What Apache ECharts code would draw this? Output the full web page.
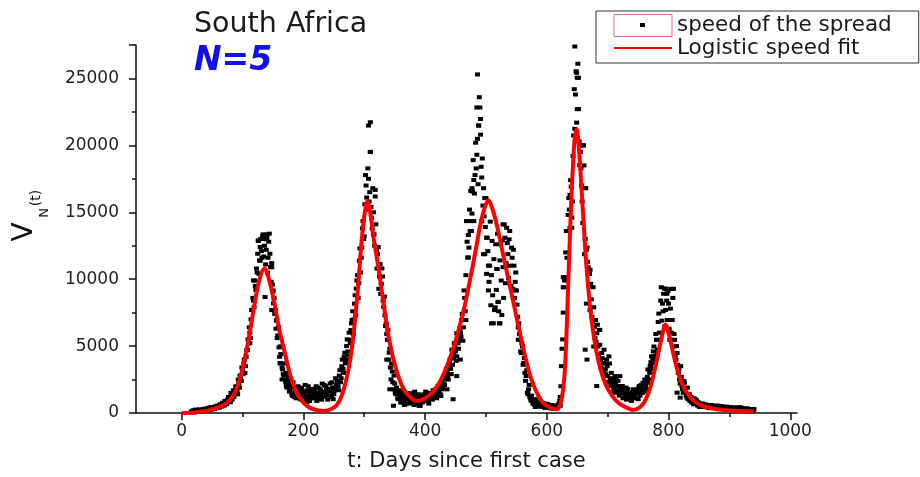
<!DOCTYPE html>
<html>
<head>
<meta charset="utf-8">
<script src="https://cdn.jsdelivr.net/npm/echarts@6/dist/echarts.min.js"></script>
<style>html,body{margin:0;padding:0;background:#fff}#c{width:920px;height:477px}</style>
</head>
<body>
<div id="c"></div>
<script>
// ---- data ----
const titleText = 'South Africa';
const subtitleText = 'N=5';
const xTickLabels = [0, 200, 400, 600, 800, 1000];
const xMinorTicks = [100, 300, 500, 700, 900];
const yTickStep = 5000;

// daily speed of the spread, even days (16, 18, ... 940)
const speedEvenStart = 16;
const speedEvenValues = [
 120,60,200,90,250,150,80,220,130,260,
 180,300,150,350,220,400,250,330,420,300,
 450,380,520,400,600,480,700,550,820,650,
 900,1100,800,1300,1500,1200,1700,1800,1400,2200,
 2800,2400,3200,3700,3000,4200,4700,5200,6000,7000,
 7700,8400,9900,9200,10500,12900,11400,13000,11600,13300,
 12500,11100,13100,11600,13400,10900,11200,9100,8600,7700,
 6900,5800,4900,3700,4970,3250,2800,2500,3000,2100,
 2400,1700,2200,1300,1900,1500,1100,1800,1400,1500,
 1000,1700,1300,800,1600,1200,2000,900,1500,1800,
 1100,1600,1400,900,1900,1200,1700,1000,1500,2100,
 1300,1800,1000,1600,2200,1200,1900,1400,1700,2000,
 2400,1700,3200,2600,3990,3000,4500,3700,5500,4300,
 5470,6200,6950,5900,8170,7300,9900,8600,11380,10500,
 12360,14340,13200,17780,16100,18280,15800,19510,14600,16800,
 13350,16180,12100,11870,9280,11130,9650,10200,7930,7300,
 6700,5470,3990,4800,2510,3100,1770,2200,1400,1700,
 1030,1500,780,1300,1100,600,1400,900,1200,700,
 1280,1000,1500,600,1100,800,1300,540,1000,1200,
 800,1400,1030,900,1300,700,1500,1100,1000,1600,
 1200,1800,1300,1500,2000,1280,1770,2510,2100,3000,
 3000,2500,3740,3300,4730,4100,5220,4600,5960,5200,
 5470,6000,6950,5400,9160,7600,14340,11620,12360,14340,
 13600,16550,17410,17780,18280,20490,21480,22830,18400,19020,
 16800,11870,16060,13100,9160,11010,8050,12860,6700,7690,
 12610,10760,8300,6700,12610,7320,10900,14090,9700,13840,
 11870,12980,11010,12360,9280,11010,9800,9160,7190,6700,
 5470,4480,4970,3740,3000,2760,1520,1770,1200,910,
 1030,800,600,900,700,540,650,500,750,540,
 600,420,700,450,550,350,600,420,500,380,
 460,540,700,1200,3500,5500,9400,10150,13600,9900,
 16060,13840,16920,15810,20740,21230,25540,25050,22710,18520,
 18280,15810,20000,11870,16800,12360,10890,10390,9650,7190,
 9400,6450,6950,5960,4970,6210,3990,4480,3740,4730,
 3250,3990,2760,4230,2510,3000,2020,1770,2760,2510,
 2020,1520,2760,1800,2020,1520,1280,1900,1520,1300,
 1280,1030,1520,1770,1200,1520,1770,1030,2020,1770,
 1770,2260,1600,2020,2260,3250,2500,3500,4230,3990,
 4970,4230,5470,4730,7430,5470,9400,8170,8910,6500,
 9280,6950,8170,5470,9280,6950,4970,5470,3990,4480,
 3000,2510,3500,2020,1520,2260,1520,1150,1030,1400,
 1030,780,910,1100,780,910,540,700,600,540,
 700,540,450,600,540,420,500,540,380,460,
 540,420,380,500,420,350,460,300,420,380,
 300,420,350,400,300,380,420,300,350,250,
 420,300,380,250,340,300,200,320,280,250,
 300,200,260
];

// daily speed of the spread, odd days (17, 19, ... 939)
const speedOddStart = 17;
const speedOddValues = [
 80,180,40,240,110,190,270,100,210,160,
 320,200,280,160,380,300,450,280,360,500,
 400,550,470,650,520,760,600,900,700,1000,
 1200,950,1500,1000,1700,1400,2000,1600,2500,1900,
 2500,3400,2900,4000,3500,4700,5500,6400,5600,7700,
 8600,7900,9500,10800,11900,10400,12400,12100,13200,11700,
 13000,12200,10500,12800,11900,9800,9600,8200,7400,6300,
 5600,6400,4200,4400,3400,2900,3700,2300,1900,2700,
 1600,2000,1400,2300,1200,1700,1300,2000,1100,1600,
 1900,1200,1500,2100,1000,1700,1300,1600,1100,1400,
 1800,1300,2000,1200,1500,1800,1400,2200,1200,1600,
 2000,1500,1800,1300,1700,2300,1500,1800,2600,2100,
 2000,2800,2300,3500,3300,4200,3800,5000,4600,6000,
 5200,6700,7600,7000,8800,9300,10300,9700,12300,11600,
 13800,13000,15600,17000,15200,17500,16500,15400,13800,15000,
 12500,14100,10800,12400,10200,8900,10800,8400,8700,6500,
 5900,6200,4500,3400,3700,2300,2800,1500,1900,1100,
 1700,1200,1600,900,1300,1000,700,1500,1100,1400,
 800,1300,1100,1600,700,1200,1400,900,1300,800,
 1200,1000,1600,1300,900,1100,1400,1200,1700,1300,
 1500,1100,2000,1700,1400,2300,1900,2200,2700,3300,
 2700,3500,4000,2900,3600,4400,4900,3900,5500,4800,
 6300,5700,7400,6400,8600,10300,12800,13300,15200,16600,
 14900,18900,16400,20200,19300,17100,23600,20800,17600,15500,
 14700,13900,10400,12100,9800,14300,10300,8800,11500,7900,
 9200,13400,7600,11400,9900,12900,8600,13100,11200,12700,
 10100,13600,9500,11600,12200,8600,10500,8100,6400,5900,
 4600,5200,3600,4100,2400,3200,1400,2100,1100,1300,
 700,1000,450,800,620,480,800,600,460,700,
 380,540,480,620,400,500,340,560,300,450,
 350,600,900,2000,4800,7500,9900,12000,11600,14800,
 15200,17400,14600,19200,24200,23800,21700,26100,20300,19500,
 17000,14200,18500,13000,12200,11300,9500,10700,8500,6800,
 7900,5600,5300,6600,4400,5100,3400,4100,3100,3700,
 2900,3500,2300,3700,2000,2600,2300,1500,2200,1700,
 2400,1300,1800,1500,1100,1700,1400,1000,1800,1100,
 1400,900,1300,1200,1600,1100,1500,1900,1300,2100,
 1500,1900,2500,1800,2700,2300,3000,3800,3300,4600,
 3700,5900,4400,6800,6000,8400,6900,7600,9300,7700,
 8400,9100,6300,7800,6000,8600,5900,4300,5000,3600,
 3300,2200,2700,1800,2400,1700,1300,1900,1200,900,
 1200,950,650,850,1000,650,800,450,650,700,
 450,600,650,420,560,360,480,600,420,520,
 380,480,560,340,450,520,360,450,320,480,
 380,260,450,330,380,240,360,400,280,330,
 250,360,220,320,280,180,340,220,300,200,
 240,180
];

// extra individual points [day, speed]
const speedExtraPoints = [
 [486,25300],[485,22830],[491,21970],[488,21480],[477,16800],[474,13600],[493,14340],
 [498,16060],[501,13100],[528,14090],[646,27390],[649,25420],[652,25050],[650,22710],
 [655,20000],[660,20000],[641,13840],[638,16300],[663,16800],[307,21480],[310,21730],
 [310,19510],[318,16670],[315,13350],[126,12860],[140,13350],[129,11380],[137,8670],
 [118,9900],[134,13350],[139,12980],[148,10890],[150,9160],[148,7690],[112,5220],
 [162,3740],[446,1030],[627,9400],[630,10000],[627,10150],[808,9280],[797,8910],
 [805,5470],[665,8170],[671,7690],[676,6950],[687,6210],[663,4730],[666,3990],
 [677,4970],[688,3990],[693,3250],[698,2760],[682,2020],[467,6950],[457,5960],
 [452,4230],[553,5470],[559,4480],[542,9280],[548,9160],[520,8300],[523,6700],
 [509,6700],[496,11870],[504,11010],[518,10760],[534,11010],[480,14340],[471,11620],
 [156,6950],[162,4970],[165,2510],[172,2020],[183,1280],[206,780],[227,1030],
 [249,1030],[266,3000],[271,3990],[337,3990],[342,1770],[348,540],[364,780],
 [392,540],[425,1280],[436,1770],[452,2760],[458,3990],[581,1030],[594,540],
 [611,420],[622,540],[709,2510],[715,2020],[726,1520],[737,1280],[748,1520],
 [756,1770],[762,2260],[770,3500],[775,4230],[781,5470],[819,1150],[814,1520],
 [852,540],[868,540],[890,420],[918,420],[940,300]
];

// logistic speed fit
const fitDays = [0,20,40,50,60,70,80,90,100,110,120,128,136,144,152,160,168,178,189,198,206,215,232,245,255,263,271,277,282,290,296,301,305,309,315,321,327,333,340,348,357,366,376,386,396,405,415,425,435,446,455,463,470,477,484,490,497,504,511,518,526,534,543,551,557,563,570,578,586,594,605,615,621,625,629,632,635,639,643,646,649,652,656,660,665,670,675,681,688,697,707,718,730,742,752,760,767,774,781,788,795,801,808,815,823,832,842,855,870,890,915,940];
const fitValues = [0,40,150,280,420,620,1000,1800,3300,5500,8200,10000,10800,9900,8300,6300,4800,2900,1500,900,520,300,150,280,600,1300,2600,4000,5700,9500,13000,15000,15800,15200,13200,11500,9700,7800,5700,4000,2600,1700,1150,900,1000,1250,1700,2400,3400,4800,6200,7600,9100,10700,12400,13900,15200,15900,15200,14000,12300,10600,8700,7000,5700,4500,3200,2100,1300,750,400,280,500,1200,2800,5500,9500,14500,18600,20600,21200,20200,17500,14500,11000,8400,6400,4700,3300,2100,1300,750,420,220,400,800,1500,2600,4000,5500,6600,5800,4400,3100,2100,1400,900,550,350,220,150,120];

// ---- build ----
const scatterData = speedEvenValues.map((v, i) => [speedEvenStart + 2 * i, v])
  .concat(speedOddValues.map((v, i) => [speedOddStart + 2 * i, v]))
  .concat(speedExtraPoints);
const fitData = fitDays.map((d, i) => [d, fitValues[i]]);

const FONT = '"DejaVu Sans", "Liberation Sans", sans-serif';
const chart = echarts.init(document.getElementById('c'), null, {renderer: 'canvas'});

chart.setOption({
  animation: false,
  backgroundColor: '#fff',
  title: [
    {text: titleText, left: 194, top: 10, padding: 0,
     textStyle: {fontFamily: FONT, fontSize: 28.5, fontWeight: 'normal', color: '#1a1a1a'}},
    {text: subtitleText, left: 194, top: 45, padding: 0,
     textStyle: {fontFamily: FONT, fontSize: 33, fontWeight: 'bold', fontStyle: 'italic', color: '#1010ee'}}
  ],
  legend: {
    orient: 'vertical', left: 596, top: 11,
    padding: [3, 27, 4, 17],
    itemWidth: 58, itemHeight: 22, itemGap: 0,
    borderColor: '#333', borderWidth: 1,
    textStyle: {fontFamily: FONT, fontSize: 21.5, color: '#1a1a1a'},
    data: [
      {name: 'speed of the spread', icon: 'rect',
       itemStyle: {color: '#fff', borderColor: '#e0707c', borderWidth: 1}},
      {name: 'Logistic speed fit',
       itemStyle: {color: 'rgba(0,0,0,0)', borderColor: 'rgba(0,0,0,0)', opacity: 0}}
    ]
  },
  grid: {left: 136, right: 123, top: 45, bottom: 60, containLabel: false},
  xAxis: [
    {type: 'value', min: -75, max: 1011,
     name: 't: Days since first case', nameLocation: 'middle', nameGap: 38,
     nameTextStyle: {fontFamily: FONT, fontSize: 21, color: '#1a1a1a'},
     axisLine: {onZero: false, lineStyle: {color: '#111', width: 1.5}},
     axisTick: {customValues: xTickLabels, length: 7, lineStyle: {color: '#111', width: 1.5}},
     axisLabel: {customValues: xTickLabels, margin: 10, fontFamily: FONT, fontSize: 17, color: '#222',
                 formatter: v => String(v)},
     splitLine: {show: false}},
    {type: 'value', min: -75, max: 1011, position: 'bottom',
     axisLine: {show: false, onZero: false},
     axisTick: {customValues: xMinorTicks, length: 4, lineStyle: {color: '#111', width: 1.5}},
     axisLabel: {show: false},
     splitLine: {show: false}}
  ],
  yAxis: {
    type: 'value', min: 0, max: 27500, interval: yTickStep,
    axisLine: {show: true, onZero: false, lineStyle: {color: '#111', width: 1.5}},
    axisTick: {show: true, length: 7, lineStyle: {color: '#111', width: 1.5}},
    minorTick: {show: true, splitNumber: 2, length: 4, lineStyle: {color: '#111', width: 1.5}},
    axisLabel: {margin: 17, fontFamily: FONT, fontSize: 17, color: '#222', showMaxLabel: false,
                formatter: v => String(v)},
    splitLine: {show: false}
  },
  series: [
    {name: 'speed of the spread', type: 'scatter', data: scatterData,
     symbol: 'rect', symbolSize: [5, 4], itemStyle: {color: '#000', opacity: 1}, z: 2},
    {name: 'Logistic speed fit', type: 'line', data: fitData, smooth: 0.35,
     symbol: 'none', lineStyle: {color: '#ff0000', width: 4}, itemStyle: {color: '#ff0000'}, z: 3}
  ],
  graphic: [
    {type: 'text', x: 25, y: 232, rotation: Math.PI / 2, z: 10,
     style: {text: 'V', fontFamily: FONT, fontSize: 28, fill: '#111', align: 'center', verticalAlign: 'middle', textAlign: 'center', textVerticalAlign: 'middle'}},
    {type: 'text', x: 45, y: 213, rotation: Math.PI / 2, z: 10,
     style: {text: 'N', fontFamily: FONT, fontSize: 13, fill: '#111', align: 'center', verticalAlign: 'middle', textAlign: 'center', textVerticalAlign: 'middle'}},
    {type: 'text', x: 36, y: 198, rotation: Math.PI / 2, z: 10,
     style: {text: '(t)', fontFamily: FONT, fontSize: 14, fill: '#111', align: 'center', verticalAlign: 'middle', textAlign: 'center', textVerticalAlign: 'middle'}},
    {type: 'rect', shape: {x: 640, y: 23, width: 5, height: 4}, z: 100,
     style: {fill: '#000'}}
  ]
});
</script>
</body>
</html>
